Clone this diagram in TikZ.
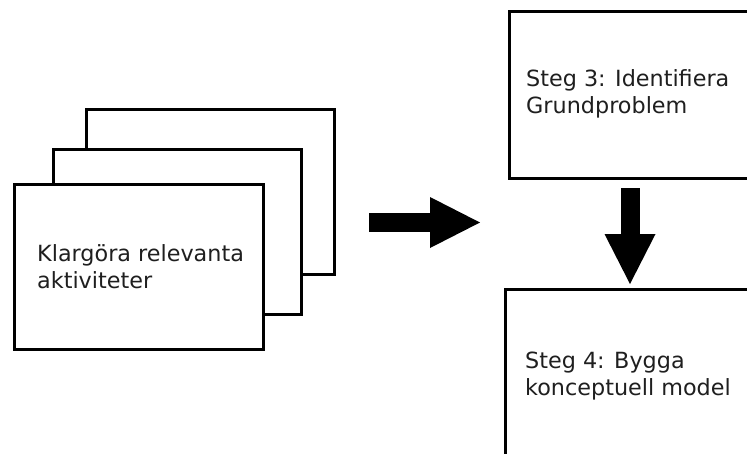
\documentclass[tikz,border=0pt]{standalone}
\usepackage{fontspec}
\setmainfont{DejaVu Sans}
\usetikzlibrary{arrows.meta}
\begin{document}
\begin{tikzpicture}[x=1pt,y=-1pt,
  card/.style={draw=black, fill=white, line width=3pt, inner sep=0pt, anchor=north west},
  steptext/.style={anchor=base west, inner sep=0pt, align=left,
    font=\fontsize{22.3}{27}\selectfont, text=black!88},
  blockarrow/.style={line width=19pt, -{Triangle[width=51pt,length=50pt,line width=0pt]}}]
  \useasboundingbox (0,0) rectangle (747,453);
  \clip (0,0) rectangle (747,453);

  % stack of activity cards, back to front
  \node[card, minimum width=248pt, minimum height=165pt] (cardback) at (85,108) {};
  \node[card, minimum width=248pt, minimum height=165pt] (cardmid) at (52,148) {};
  \node[card, minimum width=249pt, minimum height=165pt] (cardfront) at (13,183) {};
  % the base anchor sits on the last line
  \node[steptext] (cardtext) at (37,288) {Klargöra relevanta\\aktiviteter};

  % step 3 and step 4 boxes, running past the right and bottom edges
  \node[card, minimum width=260pt, minimum height=167pt] (stepthree) at (508,10) {};
  \node[steptext] (stepthreetext) at (526,113) {Steg 3: Identifiera\\Grundproblem};
  \node[card, minimum width=260pt, minimum height=200pt] (stepfour) at (504,288) {};
  \node[steptext] (stepfourtext) at (525,395) {Steg 4: Bygga\\konceptuell model};

  % block arrows
  \coordinate (rightfrom) at (369,222.5);
  \coordinate (rightto) at (480,222.5);
  \coordinate (downfrom) at (630,188);
  \coordinate (downto) at (630,284);
  \draw[blockarrow] (rightfrom) -- (rightto);
  \draw[blockarrow] (downfrom) -- (downto);
\end{tikzpicture}
\end{document}
